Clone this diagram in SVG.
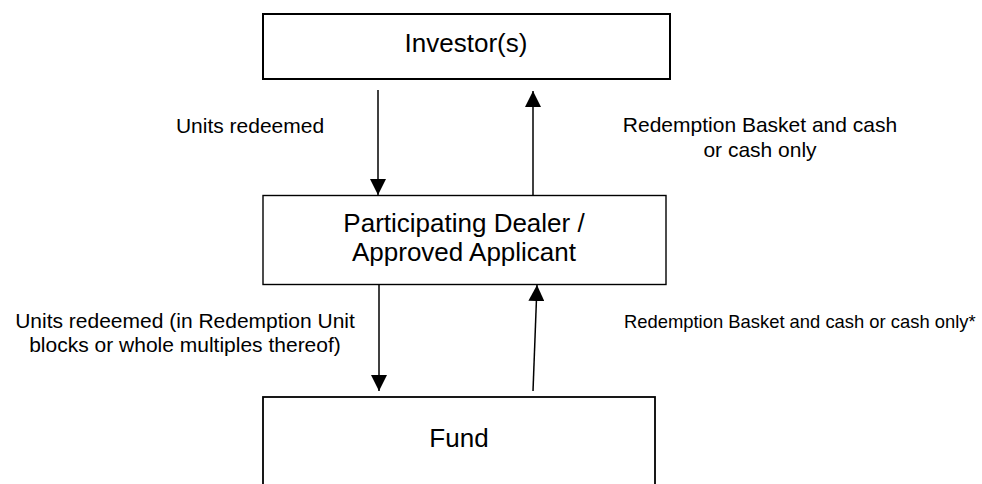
<svg xmlns="http://www.w3.org/2000/svg" width="982" height="484" viewBox="0 0 982 484">
<style>
.box{fill:#fff;stroke:#000}
.big{font-family:"Liberation Sans",Arial,sans-serif;font-size:26px;fill:#000;text-anchor:middle}
.lbl{font-family:"Liberation Sans",Arial,sans-serif;font-size:21px;fill:#000;text-anchor:middle}
.arr{stroke:#000;stroke-width:1.5;fill:none;marker-end:url(#ah)}
</style>
<defs>
<marker id="ah" markerUnits="userSpaceOnUse" markerWidth="16" markerHeight="16" refX="16" refY="8" orient="auto">
<path d="M0,0 L16,8 L0,16 Z" fill="#000"/>
</marker>
</defs>
<rect width="982" height="484" fill="#fff"/>
<g id="investor">
<rect class="box" x="263" y="14" width="407" height="65" stroke-width="2"/>
<text class="big" x="466" y="52">Investor(s)</text>
</g>
<g id="dealer">
<rect class="box" x="263" y="195.5" width="403" height="89" stroke-width="1.4"/>
<text class="big" x="464" y="232">Participating Dealer /</text>
<text class="big" x="464" y="261">Approved Applicant</text>
</g>
<g id="fund">
<rect class="box" x="263" y="397" width="392" height="110" stroke-width="1.8"/>
<text class="big" x="459" y="447">Fund</text>
</g>
<g id="connectors">
<line class="arr" x1="378" y1="90" x2="378" y2="195"/>
<line class="arr" x1="533" y1="195" x2="533" y2="91"/>
<line class="arr" x1="379" y1="285" x2="379" y2="391"/>
<line class="arr" x1="533" y1="391" x2="537" y2="285"/>
</g>
<g id="labels">
<text class="lbl" x="250" y="133">Units redeemed</text>
<text class="lbl" x="760" y="132">Redemption Basket and cash</text>
<text class="lbl" x="760" y="157">or cash only</text>
<text class="lbl" x="185" y="328">Units redeemed (in Redemption Unit</text>
<text class="lbl" x="185" y="352">blocks or whole multiples thereof)</text>
<text class="lbl" x="624" y="328" style="text-anchor:start;font-size:18.4px">Redemption Basket and cash or cash only*</text>
</g>
</svg>
